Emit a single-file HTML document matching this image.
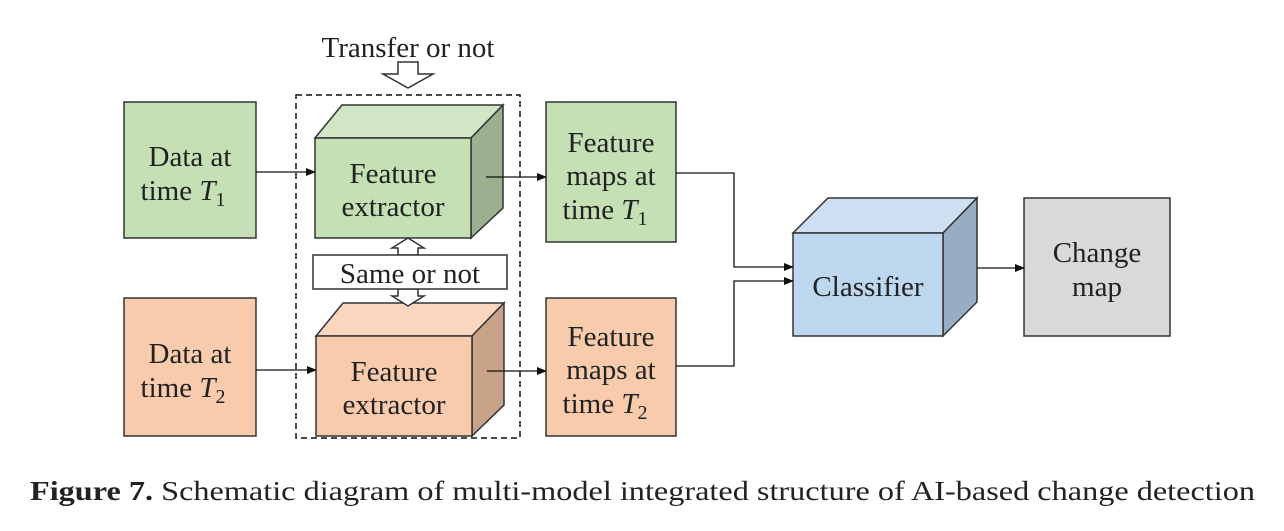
<!DOCTYPE html>
<html><head><style>
body{margin:0;background:#fff;width:1284px;height:526px;overflow:hidden}
svg text{font-family:"Liberation Serif",serif;fill:#222}
</style></head><body>
<svg width="1284" height="526" viewBox="0 0 1284 526" xmlns="http://www.w3.org/2000/svg">
<defs><marker id="a" markerWidth="10" markerHeight="8" refX="9" refY="4" orient="auto" markerUnits="userSpaceOnUse"><path d="M0,0 L10,4 L0,8z" fill="#111"/></marker></defs>
<g stroke="#333" stroke-width="1.5">
<rect x="124" y="102" width="132" height="136" fill="#c5e0b4"/>
<rect x="124" y="298" width="132" height="138" fill="#f8cbad"/>
<rect x="296" y="95" width="224" height="343" fill="none" stroke="#111" stroke-dasharray="6,4"/>
<polygon points="315,138 342,105 503,105 471,138" fill="#d1e6c5"/>
<polygon points="471,138 503,105 503,208 471,238" fill="#9bb08e"/>
<rect x="315" y="138" width="156" height="100" fill="#c5e0b4"/>
<polygon points="316,336 343,303 504,303 472,336" fill="#fad6bf"/>
<polygon points="472,336 504,303 504,405 472,436" fill="#c9a28a"/>
<rect x="316" y="336" width="156" height="100" fill="#f8cbad"/>
<polygon points="398,255 398,248 392,248 408,238 424,248 418,248 418,255" fill="#fff"/>
<polygon points="398,289 398,296 392,296 408,306 424,296 418,296 418,289" fill="#fff"/>
<rect x="313" y="255" width="194" height="34" fill="#fff"/>
<polygon points="398,62 418,62 418,74 433,74 408,88 383,74 398,74" fill="#fff"/>
<rect x="546" y="102" width="130" height="140" fill="#c5e0b4"/>
<rect x="546" y="298" width="130" height="138" fill="#f8cbad"/>
<polygon points="793,233 828,198 977,198 943,233" fill="#cde0f2"/>
<polygon points="943,233 977,198 977,302 943,336" fill="#98adc2"/>
<rect x="793" y="233" width="150" height="103" fill="#bdd7ee"/>
<rect x="1024" y="198" width="146" height="138" fill="#d9d9d9"/>
</g>
<g stroke="#111" stroke-width="1.3" fill="none">
<line x1="256" y1="172" x2="315" y2="172" marker-end="url(#a)"/>
<line x1="256" y1="370" x2="316" y2="370" marker-end="url(#a)"/>
<line x1="486" y1="177" x2="546" y2="177" marker-end="url(#a)"/>
<line x1="487" y1="371" x2="546" y2="371" marker-end="url(#a)"/>
<polyline points="676,173 734,173 734,267 793,267" marker-end="url(#a)"/>
<polyline points="676,366 734,366 734,281 793,281" marker-end="url(#a)"/>
<line x1="977" y1="268" x2="1024" y2="268" marker-end="url(#a)"/>
</g>
<g font-size="29" text-anchor="middle">
<text x="408" y="57">Transfer or not</text>
<text x="190" y="166">Data at</text>
<text x="183" y="200">time <tspan font-style="italic">T</tspan><tspan font-size="20" dy="6">1</tspan></text>
<text x="190" y="363">Data at</text>
<text x="183" y="397">time <tspan font-style="italic">T</tspan><tspan font-size="20" dy="6">2</tspan></text>
<text x="393" y="183">Feature</text>
<text x="393" y="216">extractor</text>
<text x="394" y="381">Feature</text>
<text x="394" y="414">extractor</text>
<text x="410" y="283">Same or not</text>
<text x="611" y="152">Feature</text>
<text x="611" y="185">maps at</text>
<text x="605" y="219">time <tspan font-style="italic">T</tspan><tspan font-size="20" dy="6">1</tspan></text>
<text x="611" y="346">Feature</text>
<text x="611" y="379">maps at</text>
<text x="605" y="413">time <tspan font-style="italic">T</tspan><tspan font-size="20" dy="6">2</tspan></text>
<text x="868" y="296">Classifier</text>
<text x="1097" y="262">Change</text>
<text x="1097" y="296">map</text>
</g>
<text x="30" y="500" font-size="27" textLength="1225" lengthAdjust="spacingAndGlyphs"><tspan font-weight="bold">Figure 7.</tspan> Schematic diagram of multi-model integrated structure of AI-based change detection</text>
</svg>
</body></html>
